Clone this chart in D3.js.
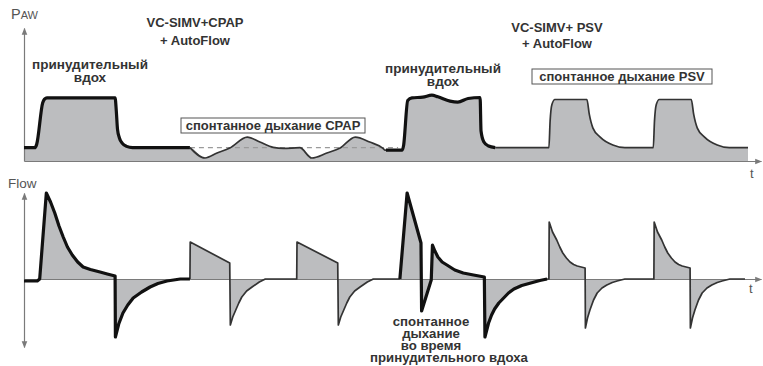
<!DOCTYPE html>
<html><head><meta charset="utf-8">
<script src="https://cdn.jsdelivr.net/npm/d3@7"></script>
<style>
body{margin:0;background:#fff}
svg{display:block}
text{font-family:"Liberation Sans",Arial,sans-serif}
</style>
</head><body>
<svg id="c" width="763" height="366"></svg>
<script>
// ---- Data: airway pressure (time s, cmH2O) ----
const pawForced1 = [[0,4],[0.18,4],[0.21,5],[0.31,17.5],[0.34,18.6],[0.38,19],[1.51,19],[1.53,15],[1.55,9.5],[1.58,7],[1.63,5.3],[1.7,4.4],[1.8,4.05],[2.75,4]];
const pawCpap = [[2.75,4],[3.0,0.9],[3.2,2.4],[3.41,3.9],[3.7,7.2],[3.91,5.7],[4.13,4.1],[4.3,3.8],[4.57,4],[4.77,0.9],[5.02,2.4],[5.24,3.9],[5.49,7.2],[5.73,5.7],[5.95,3.8],[5.98,3.3],[6.0,3.3]];
const pawForced2 = [[6.0,3.3],[6.27,3.3],[6.29,4.5],[6.36,18.2],[6.43,19],[6.61,19.2],[6.76,19.8],[6.86,19.3],[7.06,18],[7.19,17.7],[7.36,18.8],[7.56,19.1],[7.575,9],[7.62,5.8],[7.7,4.5],[7.81,4]];
const pawPsv = [[7.81,4],[8.70,4],[8.72,12],[8.75,17],[8.80,18.5],[9.33,18.5],[9.37,14],[9.43,9.9],[9.55,7.2],[9.76,4.8],[9.96,4],[10.43,4],[10.45,12],[10.48,17],[10.53,18.5],[11.06,18.5],[11.10,14],[11.16,9.9],[11.28,7.2],[11.49,4.8],[11.69,4],[12,4]];
const cpapLevel = 4;
const cpapDash = [2.75, 6.2];

// ---- Data: flow (time s, L/min) ----
const flowForced1 = [[0,-2],[0.22,-2],[0.26,0],[0.37,86],[0.44,77],[0.51,66],[0.58,53],[0.65,42],[0.72,32],[0.80,24],[0.89,17],[0.98,12],[1.1,9.5],[1.26,7],[1.38,5],[1.51,3],[1.515,-58],[1.57,-45],[1.64,-34],[1.72,-26],[1.81,-19],[1.95,-13],[2.09,-8],[2.22,-4.5],[2.37,-2],[2.59,0],[2.75,0]];
const flowCpap = [[2.75,0],[2.755,37],[3.41,16],[3.42,-46],[3.46,-38],[3.51,-31],[3.56,-24],[3.61,-18],[3.69,-12],[3.78,-8],[3.90,-3],[4.0,0],[4.52,0],[4.525,37],[5.20,16],[5.21,-46],[5.25,-38],[5.30,-31],[5.35,-24],[5.40,-18],[5.48,-12],[5.57,-8],[5.69,-3],[5.79,0],[6.23,0]];
const flowForced2 = [[6.23,0],[6.35,86],[6.58,36],[6.59,-32],[6.75,-1],[6.77,34],[6.81,28],[6.86,22],[6.93,17],[7.01,14],[7.14,9],[7.28,6],[7.45,4],[7.63,2],[7.64,-58],[7.70,-44],[7.75,-36],[7.80,-30],[7.87,-24],[7.95,-19],[8.03,-14],[8.12,-10],[8.25,-6.5],[8.40,-4],[8.55,-1.5],[8.67,0]];
const flowPsv = [[8.67,0],[8.70,0],[8.705,57],[8.76,47],[8.83,39],[8.88,32],[8.93,26],[8.99,21],[9.05,17],[9.11,14.5],[9.17,13],[9.30,11],[9.305,-49],[9.34,-39],[9.38,-31],[9.44,-21],[9.50,-14],[9.58,-9],[9.66,-6],[9.75,-3.5],[9.83,-2],[9.96,0],[10.44,0],[10.445,57],[10.50,47],[10.57,39],[10.62,32],[10.67,26],[10.73,21],[10.79,17],[10.85,14.5],[10.91,13],[11.04,11],[11.045,-49],[11.08,-39],[11.12,-31],[11.18,-21],[11.24,-14],[11.32,-9],[11.40,-6],[11.49,-3.5],[11.57,-2],[11.70,0],[11.95,0]];

// ---- Labels ----
const pawLabel = ["P", "AW"];
const flowLabel = "Flow";
const timeLabel = "t";
const mode1 = ["VC-SIMV+CPAP", "+ AutoFlow"];
const mode2 = ["VC-SIMV+ PSV", "+ AutoFlow"];
const forcedLabel = ["принудительный", "вдох"];
const cpapBox = "спонтанное дыхание CPAP";
const psvBox = "спонтанное дыхание PSV";
const spontLabel = ["спонтанное", "дыхание", "во время", "принудительного вдоха"];

// ---- Scales ----
const svg = d3.select("#c");
const x = d3.scaleLinear().domain([0, 12]).range([24, 748]);
const xAxisScale = x.copy().domain([0, x.invert(761)]).range([24, 761]);
const yP = d3.scaleLinear().domain([0, 40]).range([161, 28]);
const yF = d3.scaleLinear().domain([-68, 86]).range([347, 193]);

const FILL = "#bcbdbf", AX = "#7a7a7a", TXT = "#333";
const dedupe = arr => arr.filter((d,i)=> i===0 || d[0] > arr[i-1][0]);

const defs = svg.append("defs");
defs.append("marker").attr("id","arr").attr("viewBox","0 0 10 10").attr("refX",9).attr("refY",5)
  .attr("markerWidth",7).attr("markerHeight",7).attr("markerUnits","userSpaceOnUse").attr("orient","auto-start-reverse")
  .append("path").attr("d","M0,1 L10,5 L0,9 z").attr("fill",AX);

// ---- Pressure panel (smooth) ----
const pawAll = dedupe(pawForced1.concat(pawCpap, pawForced2, pawPsv));
svg.append("path").datum(pawAll).attr("fill", FILL)
  .attr("d", d3.area().curve(d3.curveMonotoneX).x(d=>x(d[0])).y0(yP(0)).y1(d=>yP(d[1])));

const gPx = svg.append("g").attr("transform", `translate(0,${yP(0)})`)
  .call(d3.axisBottom(xAxisScale).tickValues([]).tickSizeOuter(0));
gPx.select(".domain").attr("stroke", AX).attr("stroke-width",1.2).attr("marker-end","url(#arr)");
const gPy = svg.append("g").attr("transform", `translate(${x(0)},0)`)
  .call(d3.axisLeft(yP).tickValues([]).tickSizeOuter(0));
gPy.select(".domain").attr("stroke", AX).attr("stroke-width",1.2).attr("marker-end","url(#arr)");

svg.append("line").attr("x1", x(cpapDash[0])).attr("x2", x(cpapDash[1]))
  .attr("y1", yP(cpapLevel)).attr("y2", yP(cpapLevel))
  .attr("stroke", "#9a9a9a").attr("stroke-width", 1.2).attr("stroke-dasharray", "5,4");

const lineP = d3.line().curve(d3.curveMonotoneX).x(d=>x(d[0])).y(d=>yP(d[1]));
[[pawCpap,false],[pawPsv,false],[pawForced1,true],[pawForced2,true]].forEach(([d,thick])=>{
  svg.append("path").datum(d).attr("fill","none")
    .attr("stroke", thick ? "#111" : "#333").attr("stroke-width", thick ? 3.2 : 1.7)
    .attr("stroke-linejoin","round").attr("d", lineP);
});

// ---- Flow panel ----
const flowAll = dedupe(flowForced1.concat(flowCpap, flowForced2, flowPsv));
svg.append("path").datum(flowAll).attr("fill", FILL)
  .attr("d", d3.area().x(d=>x(d[0])).y0(yF(0)).y1(d=>yF(d[1])));

const gFx = svg.append("g").attr("transform", `translate(0,${yF(0)})`)
  .call(d3.axisBottom(xAxisScale).tickValues([]).tickSizeOuter(0));
gFx.select(".domain").attr("stroke", AX).attr("stroke-width",1.2).attr("marker-end","url(#arr)");
const gFy = svg.append("g").attr("transform", `translate(${x(0)},0)`)
  .call(d3.axisLeft(yF).tickValues([]).tickSizeOuter(0));
gFy.select(".domain").attr("stroke", AX).attr("stroke-width",1.2)
  .attr("marker-start","url(#arr)").attr("marker-end","url(#arr)");

const lineF = d3.line().x(d=>x(d[0])).y(d=>yF(d[1]));
[[flowCpap,false],[flowPsv,false],[flowForced1,true],[flowForced2,true]].forEach(([d,thick])=>{
  svg.append("path").datum(d).attr("fill","none")
    .attr("stroke", thick ? "#111" : "#333").attr("stroke-width", thick ? 3.2 : 1.7)
    .attr("stroke-linejoin","round").attr("d", lineF);
});

// ---- Text ----
const pl = svg.append("text").attr("x", 11).attr("y", 19).attr("fill", "#555");
pl.append("tspan").attr("font-size", 14.5).text(pawLabel[0]);
pl.append("tspan").attr("font-size", 11).text(pawLabel[1]);
svg.append("text").attr("x", 8).attr("y", 188).attr("fill","#555").attr("font-size", 13.5).text(flowLabel);
svg.append("text").attr("x", 750).attr("y", 178).attr("fill","#555").attr("font-size", 13).text(timeLabel);
svg.append("text").attr("x", 749).attr("y", 293).attr("fill","#555").attr("font-size", 13).text(timeLabel);

function block(lines, cxs, y0, dy, size){
  lines.forEach((s,i)=>svg.append("text").attr("x", Array.isArray(cxs) ? cxs[i] : cxs).attr("y",y0+i*dy)
    .attr("text-anchor","middle").attr("font-weight","bold").attr("font-size",size).attr("fill",TXT).text(s));
}
block(mode1, 195, 27, 18, 13);
block(mode2, 557, 32, 16, 13);
block(forcedLabel, 90, 69, 13, 13.5);
block(forcedLabel, 443, 73, 13, 13.5);
block(spontLabel, [431, 431, 431, 449], 326, 12, 13.2);

function boxed(s, x0, x1, y0, y1){
  svg.append("rect").attr("x",x0).attr("y",y0).attr("width",x1-x0).attr("height",y1-y0)
    .attr("fill","#fff").attr("stroke","#555").attr("stroke-width",1);
  svg.append("text").attr("x",(x0+x1)/2).attr("y",y1-3.5).attr("text-anchor","middle")
    .attr("font-weight","bold").attr("font-size",13).attr("fill",TXT).text(s);
}
boxed(cpapBox, 181, 365, 118, 133);
boxed(psvBox, 532, 712, 69, 84);
</script>
</body></html>
